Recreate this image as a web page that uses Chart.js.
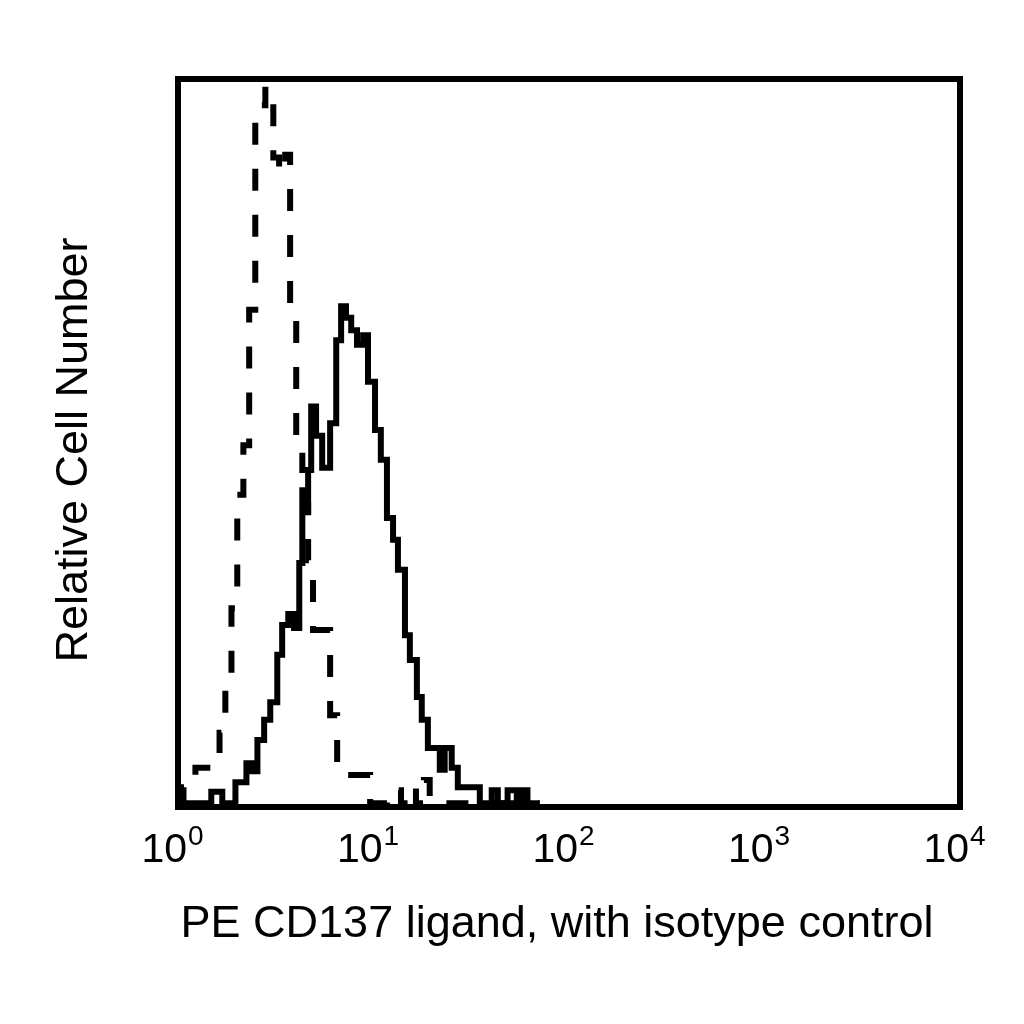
<!DOCTYPE html>
<html>
<head>
<meta charset="utf-8">
<script src="https://cdn.jsdelivr.net/npm/chart.js@4"></script>
<style>
  html, body { margin: 0; padding: 0; background: #fff; }
  canvas { display: block; }
</style>
</head>
<body>
<canvas id="chart" width="1024" height="1024"></canvas>
<script>
'use strict';

// 256 log channels over 4 decades (64 channels per decade)
let decades = [0, 1, 2, 3, 4];
let channelsPerDecade = 64;

// CD137 ligand stained cells (solid), step histogram: bin start channel / relative count
let stainedChannel = [0, 10.9, 14.5, 18.8, 22.4, 24.3, 26.0, 28.2, 30.2, 32.5,
  34.1, 36.1, 38.0, 39.7, 40.7, 41.6, 42.6, 43.6, 45.2, 47.2,
  49.8, 51.8, 53.4, 55.0, 56.7, 58.6, 60.6, 62.2, 64.5, 66.4,
  68.4, 70.4, 72.0, 74.3, 75.9, 78.2, 79.8, 81.8, 85.7, 87.3,
  89.6, 91.6, 98.8, 102.7, 104.7, 107.9, 110.9, 112.5, 114.4, 118.4];
let stainedCount = [0.5, 2.1, 0.5, 3.4, 6.0, 4.9, 9.2, 12.0, 14.4, 20.9,
  25.0, 26.5, 24.6, 33.5, 43.5, 40.5, 46.3, 55.0, 51.0, 46.6,
  52.7, 64.1, 68.8, 67.2, 65.5, 63.5, 64.8, 58.4, 51.8, 47.7,
  39.7, 36.7, 32.6, 23.6, 20.2, 15.1, 12.0, 8.1, 5.1, 8.1,
  5.4, 2.7, 0.5, 2.3, 0.5, 2.3, 0.5, 2.3, 0.5, 0.5];

// isotype control (dashed)
let isotypeChannel = [0, 1.8, 5.7, 9.6, 13.6, 15.5, 17.5, 19.4, 21.4, 23.3,
  25.3, 26.9, 28.6, 31.2, 33.1, 35.1, 36.7, 38.7, 40.7, 41.6,
  42.6, 44.2, 49.8, 52.1, 55.7, 62.9, 68.4, 73.0, 76.2, 77.9,
  80.5, 82.4, 118.4];
let isotypeCount = [0.5, 2.7, 5.4, 6.9, 10.2, 16.1, 27.3, 42.9, 49.7, 68.3,
  94.8, 96.4, 102, 89.2, 87.1, 89.6, 68.3, 50.8, 46.3, 41.5,
  33.9, 24.3, 12.6, 5.8, 4.4, 0.5, 2.3, 0.5, 2.6, 0.5,
  3.7, 0.5, 0.5];

let xTitle = 'PE CD137 ligand, with isotype control';
let yTitle = 'Relative Cell Number';

const FONT = '"Liberation Sans", Arial, Helvetica, sans-serif';

function toPoints(xs, ys) {
  return xs.map((x, i) => ({ x: x, y: ys[i] }));
}

// white background, black frame, log-decade labels and axis titles
const decor = {
  id: 'decor',
  beforeDraw(chart) {
    const ctx = chart.ctx;
    ctx.save();
    ctx.fillStyle = '#fff';
    ctx.fillRect(0, 0, chart.width, chart.height);
    ctx.restore();
  },
  afterDatasetsDraw(chart) {
    const ctx = chart.ctx;
    const a = chart.chartArea;
    const xs = chart.scales.x;
    ctx.save();
    ctx.strokeStyle = '#000';
    ctx.lineWidth = 6;
    ctx.strokeRect(a.left, a.top, a.right - a.left, a.bottom - a.top);

    ctx.fillStyle = '#000';
    ctx.textBaseline = 'alphabetic';
    decades.forEach(d => {
      const px = xs.getPixelForValue(d * channelsPerDecade) - 6;
      ctx.font = '41px ' + FONT;
      const wBase = ctx.measureText('10').width;
      ctx.font = '28px ' + FONT;
      const wExp = ctx.measureText(String(d)).width;
      const left = px - (wBase + wExp) / 2;
      ctx.textAlign = 'left';
      ctx.font = '41px ' + FONT;
      ctx.fillText('10', left, a.bottom + 55);
      ctx.font = '28px ' + FONT;
      ctx.fillText(String(d), left + wBase + 1, a.bottom + 38);
    });

    ctx.font = '45px ' + FONT;
    ctx.textAlign = 'center';
    ctx.fillText(xTitle, (a.left + a.right) / 2 - 12, a.bottom + 130);

    ctx.translate(87, (a.top + a.bottom) / 2 + 7);
    ctx.rotate(-Math.PI / 2);
    ctx.fillText(yTitle, 0, 0);
    ctx.restore();
  }
};

function renderChart() {
  let ctx = document.getElementById('chart').getContext('2d');
  new Chart(ctx, {
    type: 'line',
    data: {
      datasets: [
        {
          label: 'Isotype control',
          data: toPoints(isotypeChannel, isotypeCount),
          borderColor: '#000',
          borderWidth: 6,
          borderDash: [22, 24],
          stepped: 'before',
          pointRadius: 0,
          fill: false
        },
        {
          label: 'CD137 ligand',
          data: toPoints(stainedChannel, stainedCount),
          borderColor: '#000',
          borderWidth: 6,
          stepped: 'before',
          pointRadius: 0,
          fill: false
        }
      ]
    },
    options: {
      responsive: false,
      animation: false,
      layout: { padding: { left: 178, right: 64, top: 79, bottom: 217 } },
      plugins: { legend: { display: false }, tooltip: { enabled: false } },
      scales: {
        x: { type: 'linear', min: 0, max: decades[decades.length - 1] * channelsPerDecade, display: false },
        y: { min: 0, max: 100, display: false }
      }
    },
    plugins: [decor]
  });
}

renderChart();
</script>
</body>
</html>
